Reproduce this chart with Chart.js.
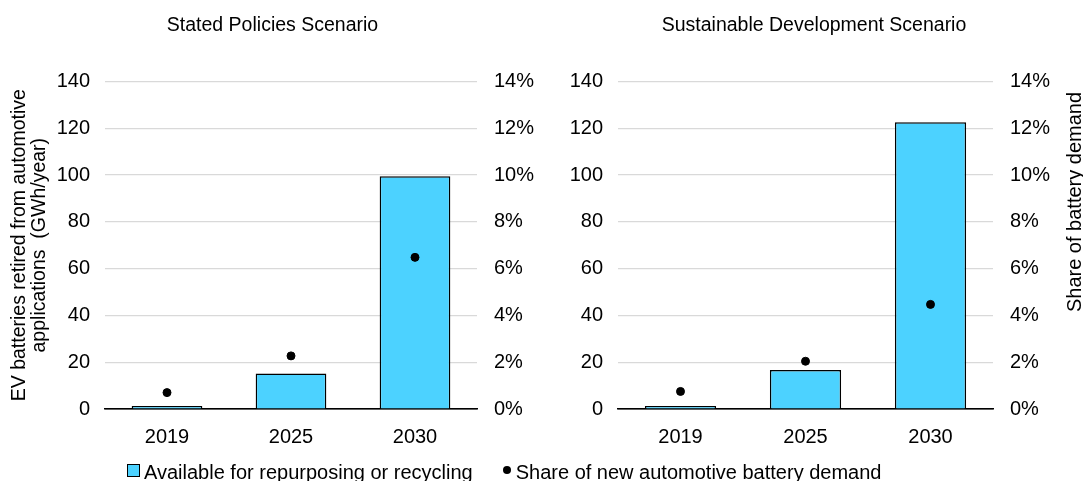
<!DOCTYPE html>
<html>
<head>
<meta charset="utf-8">
<script src="https://cdn.jsdelivr.net/npm/chart.js@4.4.1/dist/chart.umd.min.js"></script>
<style>
  body { margin: 0; background: #fff; width: 1083px; height: 481px; overflow: hidden; position: relative;
         font-family: "Liberation Sans", Arial, sans-serif; color: #000; }
  #c1 { position: absolute; left: 0; top: 0; }
  #c2 { position: absolute; left: 545px; top: 0; }
  #legend { position: absolute; left: 127px; top: 459px; font-size: 20px; line-height: 22px; white-space: nowrap; }
  #legend span { display: inline-block; vertical-align: middle; }
  .sq { width: 11px; height: 11px; background: #4CD2FF; border: 1px solid #000; margin-right: 4px; margin-top: -3px; }
  .dot { width: 8px; height: 8px; background: #000; border-radius: 50%; margin-left: 30px; margin-right: 5px; margin-top: -3px; }
</style>
</head>
<body>
<canvas id="c1" width="545" height="469"></canvas>
<canvas id="c2" width="538" height="469"></canvas>
<div id="legend"></div>

<script>
// données
const annees = ['2019', '2025', '2030'];
const titres = ['Stated Policies Scenario', 'Sustainable Development Scenario'];
const labelBarres = 'Available for repurposing or recycling';
const labelPoints = 'Share of new automotive battery demand';

const retiresStated = [1.3, 15.2, 99.5];        // GWh/an
const partStated = [0.70, 2.27, 6.48];          // %
const retiresSustainable = [1.3, 16.7, 122.5];  // GWh/an
const partSustainable = [0.75, 2.04, 4.47];     // %

const maxGauche = 140, pasGauche = 20;
const maxDroite = 14, pasDroite = 2;

const couleurBarre = '#4CD2FF';
const police = '"Liberation Sans", Arial, sans-serif';

// titre vertical de l'axe de droite (lu de bas en haut)
const titreLateral = {
  id: 'titreLateral',
  afterDraw(chart, args, opts) {
    if (!opts.text) return;
    const c = chart.ctx;
    c.save();
    c.translate(opts.x, opts.y);
    c.rotate(-Math.PI / 2);
    c.font = '20px ' + police;
    c.fillStyle = '#000';
    c.textAlign = 'center';
    c.textBaseline = 'middle';
    c.fillText(opts.text, 0, 0);
    c.restore();
  }
};

function creerGraphique(id, titre, barres, parts, largeurGauche, largeurDroite, titreY, titreDroite) {
  const ctx = document.getElementById(id).getContext('2d');
  return new Chart(ctx, {
    data: {
      labels: annees,
      datasets: [
        {
          type: 'line',
          label: labelPoints,
          data: parts,
          yAxisID: 'y2',
          showLine: false,
          pointRadius: 4,
          pointBackgroundColor: '#000',
          pointBorderColor: '#000',
          order: 1
        },
        {
          type: 'bar',
          label: labelBarres,
          data: barres,
          yAxisID: 'y',
          backgroundColor: couleurBarre,
          borderColor: '#000',
          borderWidth: 1.5,
          barPercentage: 0.57,
          categoryPercentage: 1,
          order: 2
        }
      ]
    },
    options: {
      responsive: false,
      animation: false,
      layout: { padding: { top: 0, bottom: 4 } },
      plugins: {
        legend: { display: false },
        tooltip: { enabled: false },
        title: {
          display: true,
          text: titre,
          color: '#000',
          font: { family: police, size: 19.5, weight: 'normal' },
          padding: { top: 14, bottom: 44 }
        },
        titreLateral: titreDroite
      },
      scales: {
        x: {
          grid: { display: false, drawTicks: false },
          border: { display: true, color: '#000', width: 1.4 },
          ticks: { color: '#000', font: { family: police, size: 20 }, padding: 16 }
        },
        y: {
          position: 'left',
          min: 0,
          max: maxGauche,
          ticks: { stepSize: pasGauche, color: '#000', font: { family: police, size: 20 }, padding: 15 },
          grid: {
            drawTicks: false,
            color: c => c.tick.value === 0 ? '#000' : '#d9d9d9',
            lineWidth: 1.2
          },
          border: { display: false },
          title: {
            display: !!titreY,
            text: titreY || '',
            color: '#000',
            font: { family: police, size: 19.5, lineHeight: 1.0 },
            padding: { top: 10, bottom: 0 }
          },
          afterFit: s => { s.width = largeurGauche; }
        },
        y2: {
          position: 'right',
          min: 0,
          max: maxDroite,
          ticks: {
            stepSize: pasDroite,
            color: '#000',
            font: { family: police, size: 20 },
            padding: 17,
            callback: v => v + '%'
          },
          grid: { display: false, drawTicks: false },
          border: { display: false },
          afterFit: s => { s.width = largeurDroite; }
        }
      }
    },
    plugins: [titreLateral]
  });
}

creerGraphique('c1', titres[0], retiresStated, partStated, 105, 68,
  ['EV batteries retired from automotive', 'applications  (GWh/year)'], {});
creerGraphique('c2', titres[1], retiresSustainable, partSustainable, 73, 90,
  null, { text: 'Share of battery demand', x: 530, y: 202 });

// légende commune en bas
document.getElementById('legend').innerHTML =
  '<span class="sq"></span><span>' + labelBarres + '</span>' +
  '<span class="dot"></span><span>' + labelPoints + '</span>';
</script>
</body>
</html>
